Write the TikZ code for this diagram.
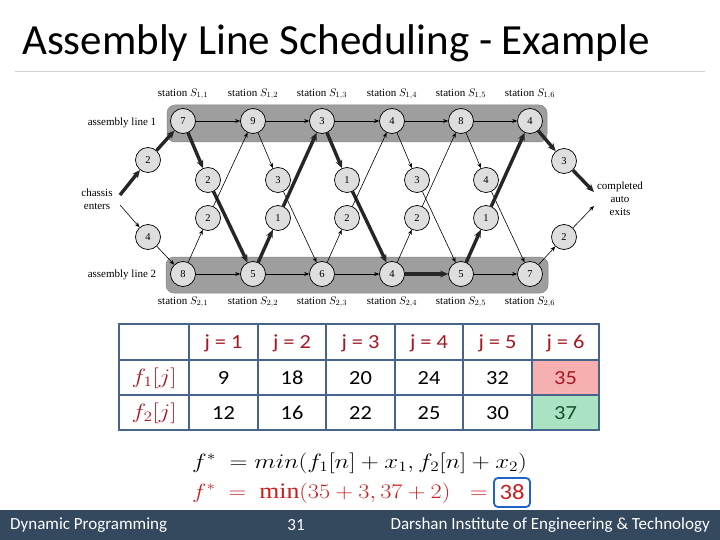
\documentclass[tikz,border=0pt]{standalone}
\usepackage{fontspec}
\usepackage{graphicx}
\setmainfont{Liberation Serif}
\newfontfamily\carl{Carlito}
\newfontfamily\carlw[FakeStretch=1.12]{Carlito}
\usetikzlibrary{arrows.meta}
\definecolor{footbg}{RGB}{52,72,94}
\definecolor{tblb}{RGB}{70,100,140}
\definecolor{hred}{RGB}{165,25,35}
\definecolor{fred}{RGB}{200,30,30}
\definecolor{pinkc}{RGB}{246,176,176}
\definecolor{greenc}{RGB}{170,226,196}
\definecolor{dgreen}{RGB}{20,80,40}
\definecolor{bandc}{RGB}{158,158,158}
\definecolor{cfill}{RGB}{222,222,222}
\definecolor{boxb}{RGB}{30,100,200}
\pgfdeclarelayer{back}
\pgfdeclarelayer{mid}
\pgfsetlayers{back,mid,main}
\tikzset{
  stn/.style={circle,draw=black,line width=0.7pt,fill=cfill,minimum size=25pt,inner sep=0pt,font=\fontsize{10.5}{10.5}\selectfont},
  lbl/.style={inner sep=0pt,font=\fontsize{11}{13}\selectfont},
  thinarr/.style={line width=0.6pt,-{Stealth[length=5pt,width=4pt]}},
  thickarr/.style={line width=3.4pt,draw=black!85,-{Stealth[length=8pt,width=7pt]}},
  band/.style={fill=bandc,draw=bandc!85!black,line width=0.5pt,rounded corners=8pt},
  hdr/.style={font=\carlw\fontsize{20}{20}\selectfont,text=hred},
  val/.style={font=\carlw\fontsize{20}{20}\selectfont},
  foot/.style={font=\carl\fontsize{17}{17}\selectfont,text=white,inner sep=0pt},
  eqn/.style={anchor=west,inner sep=0pt,font=\fontsize{22}{22}\selectfont},
}
\begin{document}
\begin{tikzpicture}[x=1pt,y=-1pt]
\useasboundingbox (0,0) rectangle (720,540);
% title
\node[anchor=base west,inner sep=0pt,font=\carl\fontsize{43}{43}\selectfont] (title) at (22,55) {Assembly Line Scheduling - Example};
\draw[black!18,line width=1pt] (15,72) -- (705,72);
% bands
\begin{pgfonlayer}{back}
\fill[white] (0,0) rectangle (720,540);
\path[band] (167,105) rectangle (547,142);
\path[band] (166,257) rectangle (548,293);
\end{pgfonlayer}
% stations
\foreach \i/\x/\a/\b in {1/183/7/8,2/253/9/5,3/322/3/6,4/392/4/4,5/461/8/5,6/530/4/7}{
  \node[stn] (a\i) at (\x,121) {\a};
  \node[stn] (b\i) at (\x,274) {\b};
  \node[lbl] (sa\i) at (\x,94) {station $S_{1,\i}$};
  \node[lbl] (sb\i) at (\x,302) {station $S_{2,\i}$};
}
% transfer nodes
\foreach \i/\x/\u/\l in {1/208/2/2,2/278/3/1,3/347/1/2,4/417/3/2,5/486/4/1}{
  \node[stn] (u\i) at (\x,180) {\u};
  \node[stn] (l\i) at (\x,218) {\l};
}
\node[stn] (e1) at (148,160) {2};
\node[stn] (e2) at (148,237) {4};
\node[stn] (x1) at (564,161) {3};
\node[stn] (x2) at (564,237) {2};
\node[lbl,align=center] (chassis) at (97,199) {chassis\\enters};
\node[lbl,align=center] (done) at (620,199) {completed\\auto\\exits};
\node[lbl] (al1) at (122,123) {assembly line 1};
\node[lbl] (al2) at (122,275) {assembly line 2};
\coordinate (cin1) at (120,195);
\coordinate (cin2) at (120,205);
\coordinate (cout1) at (594,192);
\coordinate (cout2) at (594,206);
% connectors
\begin{pgfonlayer}{mid}
\foreach \i/\j in {1/2,2/3,3/4,4/5,5/6}{
  \draw[thinarr] (a\i) -- (a\j);
}
\draw[thinarr] (b1) -- (b2);
\draw[thinarr] (b2) -- (b3);
\draw[thinarr] (b3) -- (b4);
\draw[thickarr] (b4) -- (b5);
\draw[thinarr] (b5) -- (b6);
% upper transfers (line 1 -> line 2)
\foreach \i/\j in {2/3,4/5,5/6}{
  \draw[thinarr] (a\i) -- (u\i);
  \draw[thinarr] (u\i) -- (b\j);
}
\foreach \i/\j in {1/2,3/4}{
  \draw[thickarr] (a\i) -- (u\i);
  \draw[thickarr] (u\i) -- (b\j);
}
% lower transfers (line 2 -> line 1)
\foreach \i/\j in {1/2,3/4,4/5}{
  \draw[thinarr] (b\i) -- (l\i);
  \draw[thinarr] (l\i) -- (a\j);
}
\foreach \i/\j in {2/3,5/6}{
  \draw[thickarr] (b\i) -- (l\i);
  \draw[thickarr] (l\i) -- (a\j);
}
\draw[thickarr] (cin1) -- (e1);
\draw[thickarr] (e1) -- (a1);
\draw[thinarr] (cin2) -- (e2);
\draw[thinarr] (e2) -- (b1);
\draw[thickarr] (a6) -- (x1);
\draw[thickarr] (x1) -- (cout1);
\draw[thinarr] (b6) -- (x2);
\draw[thinarr] (x2) -- (cout2);
\end{pgfonlayer}
% table
\fill[pinkc] (532,360) rectangle (599,395);
\fill[greenc] (532,395) rectangle (599,430);
\draw[tblb,line width=1.5pt] (119,324) rectangle (599,430);
\draw[tblb,line width=1.5pt] (119,360) -- (599,360) (119,395) -- (599,395);
\foreach \x in {189,258,326,395,463,532}{
  \draw[tblb,line width=1.5pt] (\x,324) -- (\x,430);
}
\foreach \i/\x/\p/\q in {1/223.5/9/12,2/292/18/16,3/360.5/20/22,4/429/24/25,5/497.5/32/30}{
  \node[hdr] (h\i) at (\x,343) {j = \i};
  \node[val] (v1\i) at (\x,378) {\p};
  \node[val] (v2\i) at (\x,413) {\q};
}
\node[hdr] (h6) at (565.5,343) {j = 6};
\node[val,text=hred] (v16) at (565.5,378) {35};
\node[val,text=dgreen] (v26) at (565.5,413) {37};
\node[text=hred,font=\fontsize{22}{22}\selectfont] (f1) at (154,378) {\scalebox{1.2}[1]{$f_1[j]$}};
\node[text=hred,font=\fontsize{22}{22}\selectfont] (f2) at (154,413) {\scalebox{1.2}[1]{$f_2[j]$}};
% formulas
\node[eqn] (eq1) at (192,463) {\scalebox{1.2}[1]{$f^{*}\ = min(f_1[n]+x_1, f_2[n]+x_2)$}};
\node[eqn,text=fred] (eq2) at (192,493) {\scalebox{1.17}[1]{$f^{*}\ =\ \mathrm{min}(35+3, 37+2)\ \ =$}};
\node[draw=boxb,line width=1.8pt,rounded corners=4pt,minimum width=36pt,minimum height=29pt,inner sep=0pt,text=fred,font=\carlw\fontsize{22}{22}\selectfont] (ans) at (512,492.5) {38};
% footer
\fill[footbg] (0,510) rectangle (720,540);
\node[foot,anchor=west] (fl) at (10,525) {Dynamic Programming};
\node[foot] (fc) at (296,525) {31};
\node[foot,anchor=east] (fr) at (710,525) {Darshan Institute of Engineering \& Technology};
\end{tikzpicture}
\end{document}
